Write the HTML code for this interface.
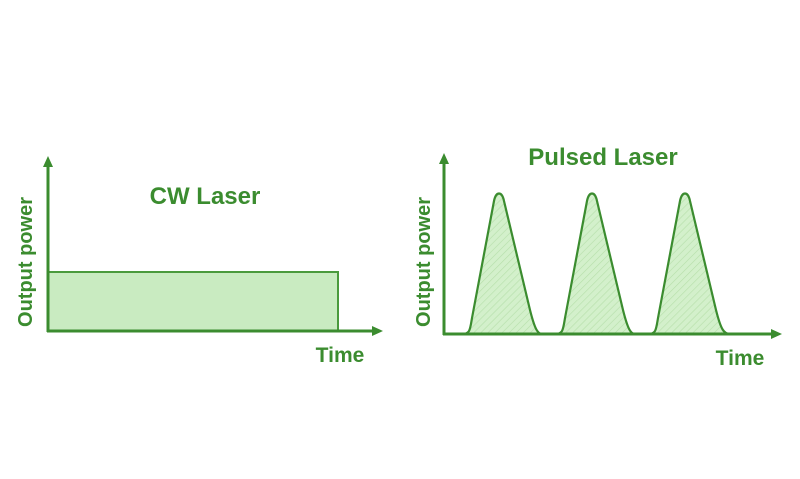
<!DOCTYPE html>
<html><head><style>
html,body{margin:0;padding:0;background:#fff;}
svg{display:block;}
text{font-family:"Liberation Sans",sans-serif;font-weight:bold;fill:#3b8c2f;}
</style></head><body>
<svg width="800" height="479" viewBox="0 0 800 479">
<defs>
<pattern id="h" width="5" height="5" patternUnits="userSpaceOnUse" patternTransform="rotate(45)">
<rect width="5" height="5" fill="#d3f0cb"/><line x1="0" y1="0" x2="0" y2="5" stroke="#b5dfa9" stroke-width="1.2"/>
</pattern>
</defs>
<rect x="48" y="272" width="290" height="59" fill="#c9ebc1" stroke="#4a9a3d" stroke-width="2"/>
<line x1="48" y1="332" x2="48" y2="164" stroke="#3b8c2f" stroke-width="3"/>
<polygon points="48,156 43,167 53,167" fill="#3b8c2f"/>
<line x1="47" y1="331" x2="375" y2="331" stroke="#3b8c2f" stroke-width="3"/>
<polygon points="383,331 372,326 372,336" fill="#3b8c2f"/>
<text x="205" y="204" font-size="24" text-anchor="middle">CW Laser</text>
<text x="340" y="362" font-size="21" text-anchor="middle">Time</text>
<text transform="translate(32,262) rotate(-90)" font-size="20" text-anchor="middle">Output power</text>
<g fill="url(#h)" stroke="#3b8c2f" stroke-width="2.2">
<path d="M462,334 C470,334 470,330 472,318 L494,201 C496,191 502,191 504,201 L530,310 C535,330 538,334 542,334 Z"/>
<path d="M555,334 C563,334 563,330 565,318 L587,201 C589,191 595,191 597,201 L623,310 C628,330 631,334 635,334 Z"/>
<path d="M648,334 C656,334 656,330 658,318 L680,201 C682,191 688,191 690,201 L716,310 C721,330 724,334 730,334 Z"/>
</g>
<line x1="444" y1="335" x2="444" y2="161" stroke="#3b8c2f" stroke-width="3"/>
<polygon points="444,153 439,164 449,164" fill="#3b8c2f"/>
<line x1="443" y1="334" x2="774" y2="334" stroke="#3b8c2f" stroke-width="3"/>
<polygon points="782,334 771,329 771,339" fill="#3b8c2f"/>
<text x="603" y="165" font-size="24" text-anchor="middle">Pulsed Laser</text>
<text x="740" y="365" font-size="21" text-anchor="middle">Time</text>
<text transform="translate(430,262) rotate(-90)" font-size="20" text-anchor="middle">Output power</text>
</svg>
</body></html>
